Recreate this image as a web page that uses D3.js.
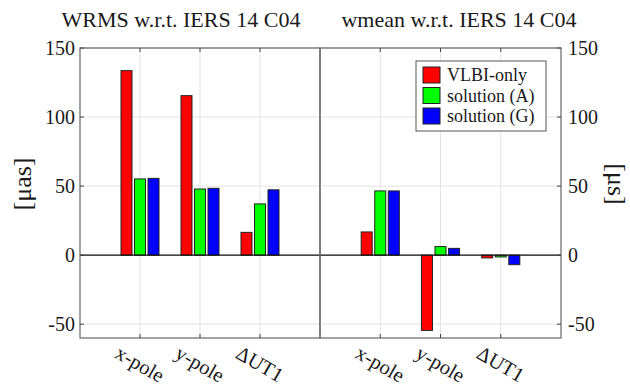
<!DOCTYPE html>
<html>
<head>
<meta charset="utf-8">
<script src="https://cdn.jsdelivr.net/npm/d3@7"></script>
<style>
  body { margin: 0; background: #fff; }
  svg text { font-family: "Liberation Serif", "Times New Roman", "DejaVu Serif", serif; fill: #1a1a1a; }
</style>
</head>
<body>
<svg id="chart" width="630" height="388"></svg>
<script>
// chart values
const categories = ['x-pole', 'y-pole', 'ΔUT1']
const seriesNames = ['VLBI-only', 'solution (A)', 'solution (G)']
const seriesColors = ['#ff0000', '#00ff00', '#0000ff']

const wrmsVlbi = [133.6, 115.5, 16.5]
const wrmsA = [55.2, 47.9, 37.1]
const wrmsG = [55.6, 48.4, 47.3]

const wmeanVlbi = [16.8, -54.5, -2.0]
const wmeanA = [46.5, 6.2, -1.3]
const wmeanG = [46.5, 4.9, -6.9]

const yTicks = [-50, 0, 50, 100, 150]

const svg = d3.select('#chart')

const y = d3.scaleLinear().domain([-60, 150]).range([338, 48])

const panels = [
    { title: 'WRMS w.r.t. IERS 14 C04', titleX: 181, x0: 80, x1: 320, side: 'left', label: '[μas]', data: [wrmsVlbi, wrmsA, wrmsG] },
    { title: 'wmean w.r.t. IERS 14 C04', titleX: 459, x0: 320, x1: 561, side: 'right', label: '[μs]', data: [wmeanVlbi, wmeanA, wmeanG] }
]

const barOffset = 0.225 // group spread in category units
const barWidth = 0.183

panels.forEach((p) => {
    const x = d3.scaleLinear().domain([0, 4]).range([p.x0, p.x1])
    const g = svg.append('g')

    // grid
    g.selectAll('.hgrid').data(yTicks).enter().append('line')
        .attr('x1', p.x0).attr('x2', p.x1)
        .attr('y1', d => y(d)).attr('y2', d => y(d))
        .attr('stroke', '#e3e3e3').attr('stroke-width', 1)
    g.selectAll('.vgrid').data(categories).enter().append('line')
        .attr('x1', (d, i) => x(i + 1)).attr('x2', (d, i) => x(i + 1))
        .attr('y1', y(150)).attr('y2', y(-60))
        .attr('stroke', '#e3e3e3').attr('stroke-width', 1)

    // bars
    p.data.forEach((vals, s) => {
        g.selectAll('.bar' + s).data(vals).enter().append('rect')
            .attr('x', (d, i) => x(i + 1 + (s - 1) * barOffset - barWidth / 2))
            .attr('width', x(barWidth) - x(0))
            .attr('y', d => Math.min(y(d), y(0)))
            .attr('height', d => Math.abs(y(d) - y(0)))
            .attr('fill', seriesColors[s])
            .attr('stroke', '#222').attr('stroke-width', 1)
    })

    // zero line
    g.append('line')
        .attr('x1', p.x0).attr('x2', p.x1)
        .attr('y1', y(0)).attr('y2', y(0))
        .attr('stroke', '#111').attr('stroke-width', 1.2)

    // box
    g.append('rect')
        .attr('x', p.x0).attr('y', y(150))
        .attr('width', p.x1 - p.x0).attr('height', y(-60) - y(150))
        .attr('fill', 'none').attr('stroke', '#666').attr('stroke-width', 1.2)

    // x ticks (inward, top and bottom)
    categories.forEach((c, i) => {
        const cx = x(i + 1)
        g.append('line').attr('x1', cx).attr('x2', cx).attr('y1', y(-60)).attr('y2', y(-60) - 4).attr('stroke', '#444')
        g.append('line').attr('x1', cx).attr('x2', cx).attr('y1', y(150)).attr('y2', y(150) + 4).attr('stroke', '#444')
        g.append('text')
            .attr('transform', `translate(${cx},364) rotate(30)`)
            .attr('text-anchor', 'middle')
            .attr('dominant-baseline', 'central')
            .attr('font-size', 20.5)
            .text(c)
    })

    // y ticks
    const ax = p.side === 'left' ? p.x0 : p.x1
    const dir = p.side === 'left' ? 1 : -1
    yTicks.forEach((t) => {
        g.append('line').attr('x1', ax).attr('x2', ax + dir * 4)
            .attr('y1', y(t)).attr('y2', y(t)).attr('stroke', '#444')
        g.append('text')
            .attr('x', p.side === 'left' ? ax - 5 : ax + 7)
            .attr('y', y(t))
            .attr('text-anchor', p.side === 'left' ? 'end' : 'start')
            .attr('dominant-baseline', 'central')
            .attr('font-size', 20)
            .text(t)
    })

    // title
    g.append('text')
        .attr('x', p.titleX).attr('y', 27)
        .attr('text-anchor', 'middle')
        .attr('font-size', 22)
        .text(p.title)

    // axis label
    const lx = p.side === 'left' ? 22 : 616
    g.append('text')
        .attr('transform', `translate(${lx},184) rotate(${p.side === 'left' ? -90 : 90})`)
        .attr('text-anchor', 'middle')
        .attr('dominant-baseline', 'central')
        .attr('font-size', 26)
        .text(p.label)
})

// legend
const leg = svg.append('g').attr('transform', 'translate(416,61)')
leg.append('rect').attr('width', 130).attr('height', 70)
    .attr('fill', '#fff').attr('stroke', '#555').attr('stroke-width', 1)
seriesNames.forEach((name, i) => {
    leg.append('rect')
        .attr('x', 7).attr('y', 6 + i * 20.5)
        .attr('width', 17).attr('height', 16)
        .attr('fill', seriesColors[i]).attr('stroke', '#222')
    leg.append('text')
        .attr('x', 31).attr('y', 14 + i * 20.5)
        .attr('dominant-baseline', 'central')
        .attr('font-size', 18)
        .text(name)
})
</script>
</body>
</html>
